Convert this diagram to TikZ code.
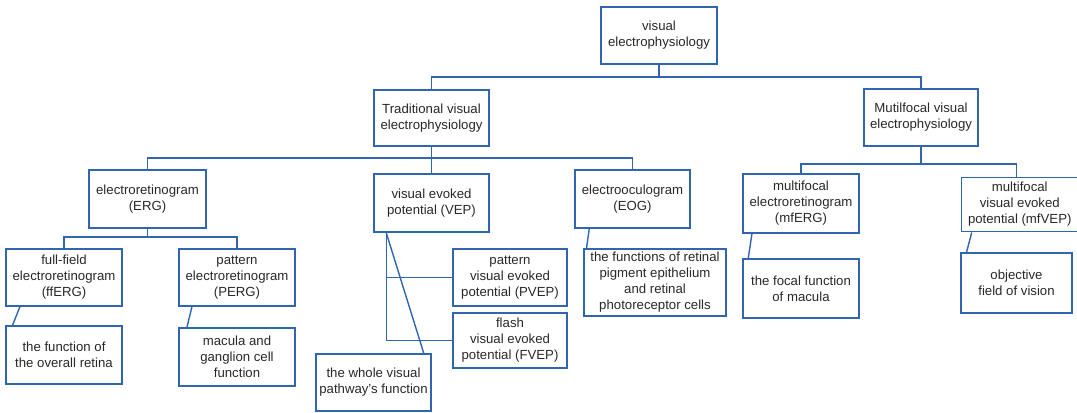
\documentclass[tikz,border=0pt]{standalone}
\usepackage{fontspec}
\setmainfont{Liberation Sans}
\usetikzlibrary{calc}
\definecolor{lineblue}{RGB}{48,102,176}
\definecolor{txt}{RGB}{40,40,40}
\tikzset{
  box/.style={draw=lineblue, line width=1.15pt, rectangle, inner sep=0pt, align=center,
    text=txt, font=\fontsize{9.9pt}{12pt}\selectfont},
  conn/.style={draw=lineblue, line width=1.05pt}
}
\begin{document}
\begin{tikzpicture}[x=0.75pt, y=-0.75pt]
\useasboundingbox (0,0) rectangle (1077,413);

\node[box, minimum width=87pt, minimum height=42.75pt] (top) at (659,35.5) {visual\\electrophysiology};
\node[box, minimum width=86.25pt, minimum height=42pt] (trad) at (431.5,118) {Traditional visual\\electrophysiology};
\node[box, minimum width=85.5pt, minimum height=42.75pt] (mult) at (921,117.5) {Mutilfocal visual\\electrophysiology};

\node[box, minimum width=87.75pt, minimum height=43.5pt] (erg) at (147.5,199) {electroretinogram\\(ERG)};
\node[box, minimum width=86.25pt, minimum height=43.5pt] (vep) at (431.5,203) {visual evoked\\potential (VEP)};
\node[box, minimum width=86.25pt, minimum height=43.5pt] (eog) at (632.5,199) {electrooculogram\\(EOG)};
\node[box, minimum width=87pt, minimum height=44.25pt] (mferg) at (801,203.5) {multifocal\\electroretinogram\\(mfERG)};
\node[box, minimum width=87.4pt, minimum height=40.8pt] (mfvep) at (1019.75,204.5) {multifocal\\visual evoked\\potential (mfVEP)};

\node[box, minimum width=87pt, minimum height=42.75pt] (fferg) at (64,277.5) {full-field\\electroretinogram\\(ffERG)};
\node[box, minimum width=87pt, minimum height=42.75pt] (perg) at (237,277.5) {pattern\\electroretinogram\\(PERG)};
\node[box, minimum width=87pt, minimum height=43.5pt] (retina) at (64,355) {the function of\\the overall retina};
\node[box, minimum width=87pt, minimum height=43.5pt] (macula) at (237,357) {macula and\\ganglion cell\\function};

\node[box, minimum width=85.5pt, minimum height=42.75pt] (pvep) at (510,277.5) {pattern\\visual evoked\\potential (PVEP)};
\node[box, minimum width=85.5pt, minimum height=41.25pt] (fvep) at (510,340.5) {flash\\visual evoked\\potential (FVEP)};
\node[box, minimum width=86.25pt, minimum height=42.75pt] (whole) at (373.5,382.5) {the whole visual\\pathway's function};

\node[box, minimum width=106.5pt, minimum height=50.25pt] (eogt) at (655,282.5) {the functions of retinal\\pigment epithelium\\and retinal\\photoreceptor cells};
\node[box, minimum width=87pt, minimum height=44.25pt] (focal) at (801,288.5) {the focal function\\of macula};
\node[box, minimum width=83.25pt, minimum height=45pt] (objective) at (1016.5,283) {objective\\field of vision};

% top level
\coordinate (b1) at (659,77);
\draw[conn] (top.south) -- (b1) -| (trad.north);
\draw[conn] (b1) -| (mult.north);

% traditional
\coordinate (b2) at (431.5,158);
\draw[conn] (trad.south) -- (b2) -| (erg.north);
\draw[conn] (b2) -- (vep.north);
\draw[conn] (b2) -| (eog.north);

% multifocal
\coordinate (b3) at (921,164);
\coordinate (mfvtop) at (1016.7,177.3);
\draw[conn] (mult.south) -- (b3) -| (mferg.north);
\draw[conn] (b3) -| (mfvtop);

% ERG
\coordinate (b4) at (147.5,237);
\draw[conn] (erg.south) -- (b4) -| (fferg.north);
\draw[conn] (b4) -| (perg.north);

% diagonals
\draw[conn] ($(fferg.south west)+(14.7,0)$) -- ($(retina.north west)+(7.3,0)$);
\draw[conn] ($(perg.south west)+(13.7,0)$) -- ($(macula.north west)+(8.7,0)$);
\draw[conn] ($(eog.south west)+(15,0)$) -- ($(eogt.north west)+(3.3,0)$);
\draw[conn] ($(mferg.south west)+(9.7,0)$) -- ($(focal.north west)+(6,0)$);
\draw[conn] ($(mfvep.south west)+(11,0)$) -- ($(objective.north west)+(6.3,0)$);

% VEP
\coordinate (v0) at ($(vep.south west)+(13,0)$);
\draw[conn] (v0) |- (fvep.west);
\draw[conn] (v0 |- pvep.west) -- (pvep.west);
\draw[conn] (v0) -- ($(whole.north east)+(-8,0)$);
\end{tikzpicture}
\end{document}
